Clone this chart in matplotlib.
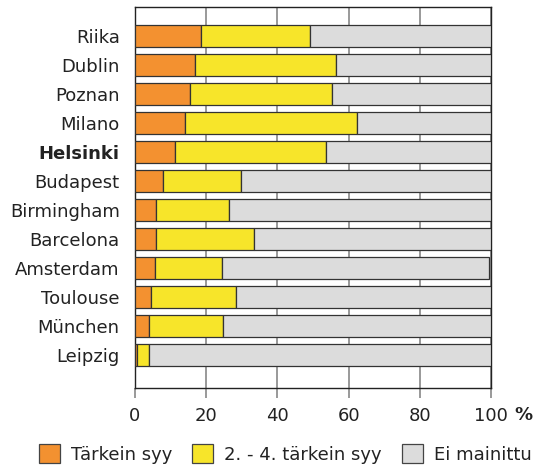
import matplotlib
matplotlib.use("Agg")
import matplotlib.pyplot as plt
from matplotlib.patches import Patch

# cities, top to bottom
cities = ["Riika", "Dublin", "Poznan", "Milano", "Helsinki", "Budapest",
          "Birmingham", "Barcelona", "Amsterdam", "Toulouse", "München", "Leipzig"]
# share of answers, %
tarkein = [18.6, 16.8, 15.5, 14.0, 11.2, 8.0, 6.0, 5.8, 5.5, 4.5, 4.0, 0.6]
muut = [30.6, 39.8, 39.9, 48.4, 42.4, 21.9, 20.3, 27.5, 18.8, 24.0, 20.6, 3.4]
ei_mainittu = [50.8, 43.4, 44.6, 37.6, 46.4, 70.1, 73.7, 66.7, 75.2, 71.5, 75.4, 96.0]
xticks = [0, 20, 40, 60, 80, 100]
labels = ["Tärkein syy", "2. - 4. tärkein syy", "Ei mainittu"]
colors = ["#F39130", "#F7E52A", "#DCDCDC"]

plt.rcParams['font.family'] = ['DejaVu Sans']
plt.rcParams['font.size'] = 13

fig = plt.figure(figsize=(5.36, 4.67), dpi=100)
ax = fig.add_axes([135 / 536, 1 - 388 / 467, 356 / 536, 381 / 467])

y = list(range(len(cities)))
left2 = [a for a in tarkein]
left3 = [a + b for a, b in zip(tarkein, muut)]
kw = dict(height=0.76, edgecolor="#333333", linewidth=0.9, zorder=3)
ax.barh(y, tarkein, color=colors[0], **kw)
ax.barh(y, muut, left=left2, color=colors[1], **kw)
ax.barh(y, ei_mainittu, left=left3, color=colors[2], **kw)

ax.set_xlim(0, 100)
ax.set_ylim(len(cities) - 1 + 1.14, -1.0)
ax.set_xticks(xticks)
ax.set_xticklabels([str(t) for t in xticks])
ax.set_yticks(y)
ax.set_yticklabels(cities, color="#222222")
ax.get_yticklabels()[cities.index("Helsinki")].set_fontweight("bold")
ax.tick_params(axis="y", length=0, pad=11)
ax.tick_params(axis="x", length=7, width=1.2, color="#888888", pad=7, labelcolor="#222222")
ax.xaxis.grid(True, color="#888888", linewidth=1.2, zorder=0)
ax.set_axisbelow(True)
for s in ax.spines.values():
    s.set_color("#222222")
    s.set_linewidth(1.0)

ax.annotate("%", xy=(100, 0), xycoords=("data", "axes fraction"),
            xytext=(23, -32), textcoords="offset pixels",
            fontweight="bold", ha="left", va="baseline", color="#222222")

handles = [Patch(facecolor=c, edgecolor="#444444", linewidth=0.9) for c in colors]
fig.legend(handles, labels, loc="center", bbox_to_anchor=(0.532, 0.028),
           ncol=3, frameon=False, handlelength=1.17, handleheight=1.22,
           handletextpad=0.6, columnspacing=1.1, borderaxespad=0,
           labelcolor="#222222")

fig.savefig("out.png", dpi=100)
